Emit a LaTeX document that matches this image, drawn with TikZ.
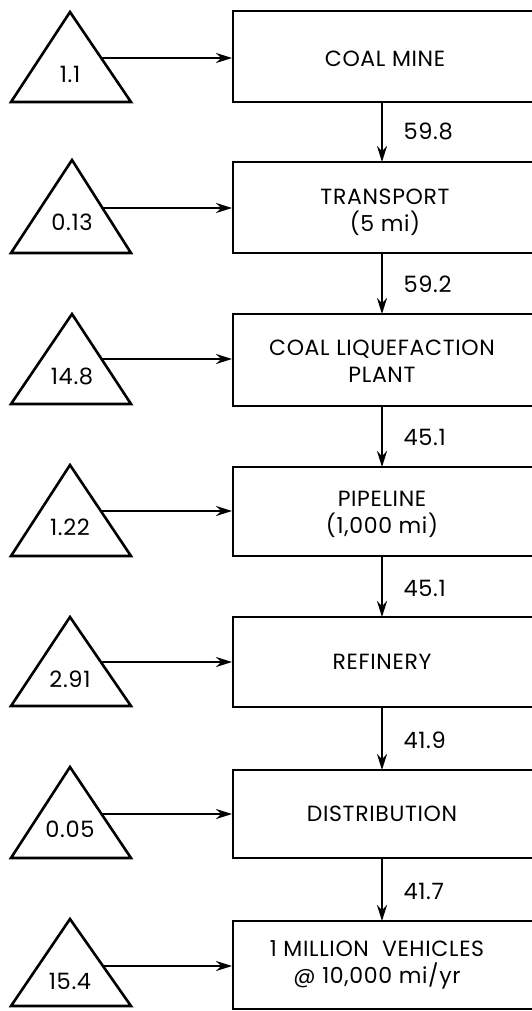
\documentclass[tikz,border=0pt]{standalone}
\usepackage{fontspec}
\setmainfont{Poppins}[LetterSpace=3]
\usetikzlibrary{arrows.meta}
\begin{document}
\begin{tikzpicture}[x=1pt,y=-1pt,
  boxline/.style={line width=2.8pt},
  triline/.style={line width=2.6pt, line join=miter},
  flow/.style={line width=2.3pt, -{Stealth[length=16pt,width=10pt]}},
  boxtext/.style={font=\fontsize{22}{27}\selectfont, align=center},
  numtext/.style={font=\fontsize{22.5}{24}\selectfont},
  flowlabel/.style={font=\fontsize{22.5}{24}\selectfont, anchor=west}]
\useasboundingbox (0,0) rectangle (531,1011);
% rows: box top, box bottom, arrow y, triangle apex y, triangle base y, apex x, text
\foreach \n/\bt/\bb/\ay/\ty/\tb/\tx/\val in {
  1/11/102/58/12/102/70/1.1,
  2/162/253/208/160/253/72/0.13,
  3/314/406/359/314/404/72/14.8,
  4/467/556/511/465/556/70/1.22,
  5/617/707/662/617/706/70/2.91,
  6/770/858/814/767/858/70/0.05,
  7/921/1009/966/919/1006/70/15.4}{
  \draw[boxline] (233,\bt) rectangle (536,\bb);
  \coordinate (boxtop\n) at (382,\bt);
  \coordinate (boxbot\n) at (382,\bb);
  \coordinate (boxin\n) at (232,\ay);
  \draw[triline] (\tx,\ty) -- (131,\tb) -- (11,\tb) -- cycle;
  \coordinate (triout\n) at ({\tx+(131-\tx)*(\ay-\ty)/(\tb-\ty)},\ay);
  \node[numtext] (num\n) at (\tx,\ty+62) {\val};
  \draw[flow] (triout\n) -- (boxin\n);
}
\node[boxtext] (b1) at (385,59) {COAL MINE};
\node[boxtext] (b2) at (385,212) {TRANSPORT\\(5 mi)};
\node[boxtext] (b3) at (382,361) {COAL LIQUEFACTION\\PLANT};
\node[boxtext] (b4) at (382,514) {PIPELINE\\(1,000 mi)};
\node[boxtext] (b5) at (382,662) {REFINERY};
\node[boxtext] (b6) at (382,814) {DISTRIBUTION};
\node[boxtext] (b7) at (377,965) {1 MILLION\ \ VEHICLES\\@ 10,000 mi/yr};
\foreach \a/\b/\y/\lab in {1/2/131/59.8, 2/3/284/59.2, 3/4/437/45.1, 4/5/588/45.1, 5/6/740/41.9, 6/7/891/41.7}{
  \draw[flow] (boxbot\a) -- (boxtop\b);
  \node[flowlabel] (f\a) at (400,\y) {\lab};
}
\end{tikzpicture}
\end{document}
